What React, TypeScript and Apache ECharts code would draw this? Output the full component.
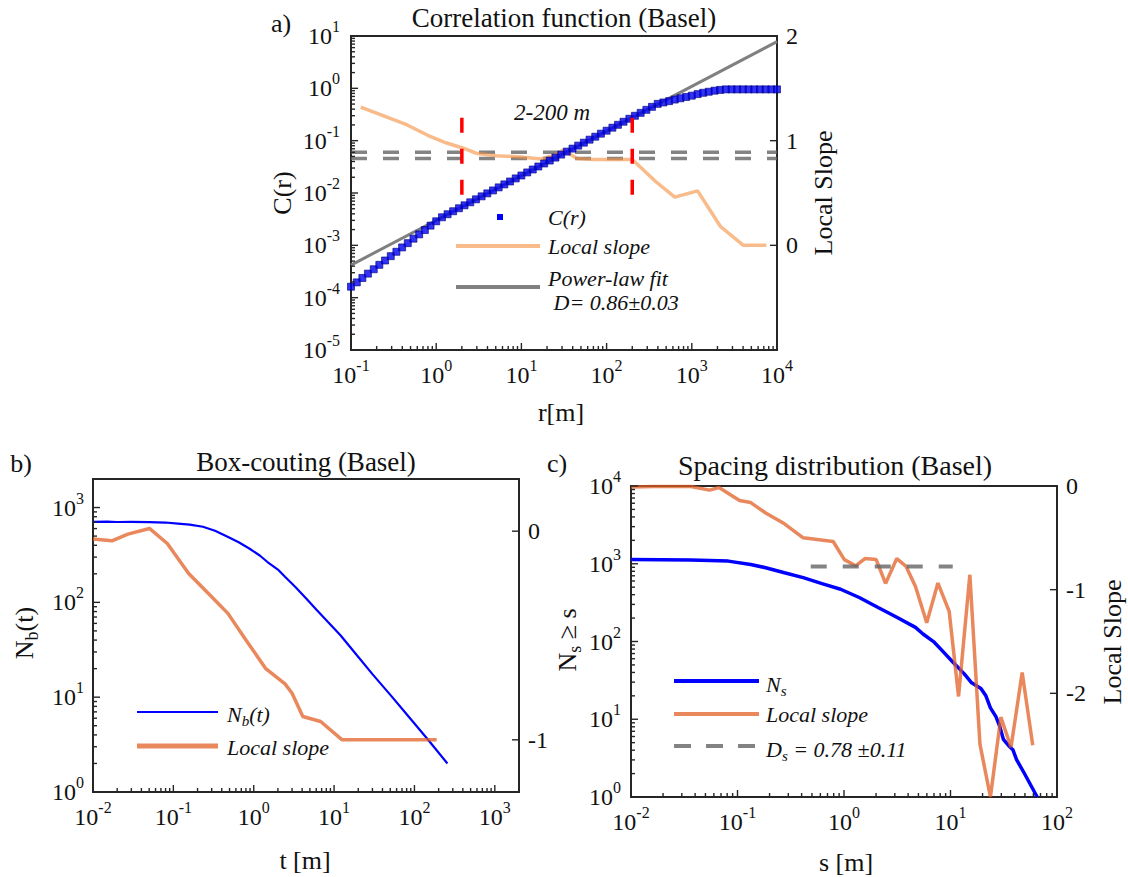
import React, { useEffect, useRef } from 'react';
import * as echarts from 'echarts';

const F = '"Liberation Serif", "Times New Roman", serif';
const INK = '#111111';
const FRAME = '#262626';
const BLUE = '#0000ff';
const ORANGE_A = 'rgba(245,145,65,0.62)';
const ORANGE_BC = 'rgba(225,95,35,0.74)';
const GREY = '#808080';
const GREY_DASH = 'rgba(100,100,100,0.8)';

// ---------- Panel a: correlation function ----------
const corrR = [0.1, 0.117, 0.136, 0.158, 0.185, 0.215, 0.251, 0.293, 0.341, 0.398, 0.464, 0.541, 0.631, 0.736, 0.858,
  1, 1.17, 1.36, 1.58, 1.85, 2.15, 2.51, 2.93, 3.41, 3.98, 4.64, 5.41, 6.31, 7.36, 8.58,
  10, 11.7, 13.6, 15.8, 18.5, 21.5, 25.1, 29.3, 34.1, 39.8, 46.4, 54.1, 63.1, 73.6, 85.8,
  100, 117, 136, 158, 185, 215, 251, 293, 341, 398, 464, 541, 631, 736, 858,
  1000, 1170, 1360, 1580, 1850, 2150, 2510, 2930, 3410, 3980, 4640, 5410, 6310, 7360, 8580, 10000];
const corrC = [1.62e-4, 1.96e-4, 2.38e-4, 2.88e-4, 3.49e-4, 4.24e-4, 5.13e-4, 6.21e-4, 7.53e-4, 9.12e-4, 1.10e-3, 1.34e-3, 1.62e-3, 1.96e-3, 2.38e-3,
  2.88e-3, 3.44e-3, 3.93e-3, 4.48e-3, 5.11e-3, 5.82e-3, 6.64e-3, 7.57e-3, 8.63e-3, 9.84e-3, 1.12e-2, 1.28e-2, 1.46e-2, 1.66e-2, 1.90e-2,
  2.16e-2, 2.47e-2, 2.81e-2, 3.21e-2, 3.66e-2, 4.17e-2, 4.75e-2, 5.42e-2, 6.18e-2, 7.05e-2, 8.04e-2, 9.16e-2, 0.1045, 0.119, 0.136,
  0.155, 0.177, 0.201, 0.230, 0.262, 0.299, 0.340, 0.388, 0.443, 0.505, 0.537, 0.569, 0.610, 0.646, 0.684,
  0.724, 0.776, 0.822, 0.861, 0.902, 0.933, 0.955, 0.955, 0.955, 0.955, 0.955, 0.955, 0.955, 0.955, 0.955, 0.955];
const fitR = [0.1, 10000];
const fitC = [4.2e-4, 7.8];
const slopeAR = [0.13, 0.457, 0.85, 1.3, 2.04, 2.93, 5, 9.1, 17, 24, 31, 45, 70, 200, 376, 631, 1170, 2170, 4030, 7500];
const slopeAV = [1.32, 1.15, 1.04, 0.98, 0.93, 0.88, 0.855, 0.846, 0.825, 0.86, 0.91, 0.83, 0.82, 0.82, 0.61, 0.46, 0.52, 0.18, 0.0, 0.0];
const bandA = [0.83, 0.89];
const rangeA = [2, 200];
const rangeAY = [1.22, 0.48];
const xMajorA = [0.1, 1, 10, 100, 1000, 10000];
const yMajorA = [1e-5, 1e-4, 1e-3, 1e-2, 1e-1, 1, 10];
const yRightA = [0, 1, 2];

// ---------- Panel b: box counting ----------
const boxT = [0.01, 0.015, 0.02, 0.03, 0.05, 0.08, 0.114, 0.16, 0.233, 0.33, 0.48, 0.65, 0.88, 1.2, 1.47, 2.0, 2.45, 3.3, 4.5, 6.0, 8.4, 12, 19, 30, 52, 80, 146, 257];
const boxN = [706, 709, 704, 706, 702, 695, 677, 660, 627, 570, 490, 430, 370, 310, 268, 222, 186, 145, 110, 84, 62, 45, 28, 17.5, 10.2, 6.6, 3.6, 2.0];
const slopeBT = [0.01, 0.0172, 0.0272, 0.0504, 0.084, 0.155, 0.258, 0.477, 0.796, 1.40, 2.45, 3.0, 4.08, 6.8, 12.6, 189];
const slopeBV = [-0.038, -0.046, -0.014, 0.013, -0.059, -0.203, -0.289, -0.394, -0.52, -0.657, -0.732, -0.777, -0.888, -0.912, -1.0, -1.0];
const xMajorB = [0.01, 0.1, 1, 10, 100, 1000];
const yMajorB = [1, 10, 100, 1000];
const yRightB = [-1, 0];

// ---------- Panel c: spacing distribution ----------
const spacS = [0.01, 0.0365, 0.082, 0.133, 0.184, 0.276, 0.414, 0.621, 0.929, 1.39, 2.09, 3.13, 4.69, 5.52, 7.03, 8.61, 10.5, 13.4, 15.8, 19.3, 21.5, 23.7, 26.7, 29.0, 31.4, 35.0, 38.5, 41.7, 49.0, 65.2];
const spacN = [1135, 1114, 1081, 980, 889, 767, 662, 556, 470, 368, 274, 205, 152, 125, 98, 73, 54.5, 38.6, 29.4, 24.9, 20, 14, 10.8, 8.1, 5.5, 4.6, 4.06, 3.03, 2.05, 1];
const slopeCS = [0.01, 0.0163, 0.0365, 0.0547, 0.067, 0.1045, 0.133, 0.184, 0.276, 0.414, 0.791, 1.008, 1.285, 1.573, 2.005, 2.455, 3.13, 3.83, 4.69, 5.98, 7.62, 9.72, 11.9, 15.2, 18.9, 23.7, 29.7, 37.0, 47.1, 59.2];
const slopeCV = [-0.01, -0.005, -0.005, -0.04, -0.015, -0.14, -0.16, -0.26, -0.365, -0.50, -0.535, -0.71, -0.77, -0.70, -0.71, -0.94, -0.70, -0.776, -0.97, -1.32, -0.936, -1.21, -2.03, -0.856, -2.49, -3.0, -2.23, -2.52, -1.80, -2.5];
const dsS = [0.487, 10.5];
const dsV = -0.776;
const xMajorC = [0.01, 0.1, 1, 10, 100];
const yMajorC = [1, 10, 100, 1000, 10000];
const yRightC = [-2, -1, 0];

const zip = (a: number[], b: number[]) => a.map((v, i) => [v, b[i]]);
const minorsOf = (majors: number[], hi: number) => {
  const out: number[] = [];
  for (let i = 0; i < majors.length; i++)
    for (let m = 2; m <= 9; m++) { const v = m * majors[i]; if (v < hi * 0.999) out.push(v); }
  return out;
};

const supRich = {
  b: { fontFamily: F, fontSize: 24, lineHeight: 26, color: INK },
  s: { fontFamily: F, fontSize: 16, lineHeight: 17, padding: [0, 0, 19, 0], color: INK },
};
const supFmt = (v: number) => `{b|10}{s|${Math.round(Math.log10(v))}}`;

function logAxis(gridIndex: number, min: number, max: number, majors: number[], margin: number, pos?: string) {
  const ax: any = {
    gridIndex, type: 'log', min, max,
    axisLine: { show: false, onZero: false }, splitLine: { show: false }, axisTick: { show: false },
    axisLabel: { customValues: majors, formatter: supFmt, rich: supRich, margin, color: INK },
  };
  if (pos) ax.position = pos;
  return ax;
}
function valRight(gridIndex: number, min: number, max: number, vals: number[]) {
  return {
    gridIndex, type: 'value', position: 'right', min, max,
    axisLine: { show: false, onZero: false }, splitLine: { show: false }, axisTick: { show: false },
    axisLabel: { customValues: vals, fontFamily: F, fontSize: 24, color: INK, margin: 9 },
  };
}

// tick marks drawn as line segments (short lines from the frame inwards) in pixel space via convertToPixel
export default function App() {
  const ref = useRef<HTMLDivElement>(null);
  useEffect(() => {
    if (!ref.current) return;
    const chart = echarts.init(ref.current, undefined, { renderer: 'svg' });
    const line = (name: string, xi: number, yi: number, data: any[], color: string, width: number, dash?: any, z = 2) => ({
      name, type: 'line', xAxisIndex: xi, yAxisIndex: yi, data, showSymbol: false, symbol: 'none', z,
      lineStyle: { color, width, type: dash || 'solid', cap: 'butt' }, silent: true, clip: true,
    });
    const grids = [
      { left: 351, top: 36, width: 426, height: 314 },
      { left: 93, top: 479, width: 426, height: 313 },
      { left: 631, top: 486, width: 426, height: 311 },
    ];
    const txt = (x: number, y: number, text: string, size: number, o: any = {}) => ({
      type: 'text', x, y, rotation: o.rot || 0, z: 100,
      style: {
        text, fontSize: size, fontFamily: F, fontStyle: o.italic ? 'italic' : 'normal', fill: INK,
        align: o.align || 'center', verticalAlign: 'middle', rich: o.rich,
      },
    });
    const seg = (x1: number, y1: number, x2: number, y2: number, stroke: string, w: number, dash?: number[]) => ({
      type: 'line', z: 100, shape: { x1, y1, x2, y2 }, style: { stroke, lineWidth: w, lineDash: dash },
    });
    const richIt = (size: number, italic: boolean) => ({
      i: { fontFamily: F, fontSize: size, fontStyle: italic ? 'italic' : 'normal', fill: INK },
      sub: { fontFamily: F, fontSize: Math.round(size * 0.68), fontStyle: italic ? 'italic' : 'normal', fill: INK, padding: [Math.round(size * 0.6), 0, 0, 0] },
    });
    const staticGraphics = [
      // panel a
      txt(281, 23, 'a)', 26),
      txt(564, 18, 'Correlation function (Basel)', 27),
      txt(282, 193, 'C(r)', 26, { rot: Math.PI / 2 }),
      txt(823, 193, 'Local Slope', 26, { rot: Math.PI / 2 }),
      txt(561, 412, 'r[m]', 26),
      txt(552, 112, '2-200 m', 23, { italic: true }),
      { type: 'rect', z: 100, shape: { x: 497, y: 214, width: 6, height: 6 }, style: { fill: BLUE } },
      txt(548, 217, 'C(r)', 22, { italic: true, align: 'left' }),
      seg(456, 246, 540, 246, ORANGE_A, 4),
      txt(548, 246, 'Local slope', 22, { italic: true, align: 'left' }),
      seg(456, 287, 540, 287, GREY, 4),
      txt(548, 278, 'Power-law fit', 22, { italic: true, align: 'left' }),
      txt(548, 302, ' D= 0.86\u00b10.03', 22, { italic: true, align: 'left' }),
      // panel b
      txt(21, 463, 'b)', 26),
      txt(306, 462, 'Box-couting (Basel)', 27),
      txt(24, 633, '{i|N}{sub|b}{i|(t)}', 26, { rot: Math.PI / 2, rich: richIt(26, false) }),
      txt(305, 860, 't [m]', 26),
      seg(137, 712, 218, 712, BLUE, 2),
      txt(227, 714, '{i|N}{sub|b}{i|(t)}', 22, { align: 'left', rich: richIt(22, true) }),
      seg(137, 746, 218, 746, ORANGE_BC, 5),
      txt(227, 747, 'Local slope', 22, { italic: true, align: 'left' }),
      // panel c
      txt(557, 463, 'c)', 26),
      txt(835, 465, 'Spacing distribution (Basel)', 28),
      txt(567, 640, '{i|N}{sub|s}{i| \u2265 s}', 26, { rot: Math.PI / 2, rich: richIt(26, false) }),
      txt(1112, 642, 'Local Slope', 26, { rot: Math.PI / 2 }),
      txt(846, 862, 's [m]', 26),
      seg(674, 681, 759, 681, BLUE, 4),
      txt(766, 684, '{i|N}{sub|s}', 22, { align: 'left', rich: richIt(22, true) }),
      seg(674, 714, 759, 714, ORANGE_BC, 4),
      txt(766, 714, 'Local slope', 22, { italic: true, align: 'left' }),
      seg(674, 746, 759, 746, GREY_DASH, 4, [17, 15]),
      txt(766, 749, '{i|D}{sub|s}{i| = 0.78 \u00b10.11}', 22, { align: 'left', rich: richIt(22, true) }),
    ];
    const option: any = {
      animation: false,
      backgroundColor: '#ffffff',
      textStyle: { fontFamily: F },
      grid: grids.map((g) => ({ ...g, show: true, borderColor: FRAME, borderWidth: 2 })),
      xAxis: [
        logAxis(0, 0.1, 10000, xMajorA, 12),
        logAxis(1, 0.01, 2000, xMajorB, 12),
        logAxis(2, 0.01, 100, xMajorC, 12),
      ],
      yAxis: [
        logAxis(0, 1e-5, 10, yMajorA, 11, 'left'),
        valRight(0, -1, 2, yRightA),
        logAxis(1, 1, 2000, yMajorB, 9, 'left'),
        valRight(1, -1.25, 0.25, yRightB),
        logAxis(2, 1, 10000, yMajorC, 10, 'left'),
        valRight(2, -3, 0, yRightC),
      ],
      series: [
        line('band lo', 0, 1, [[fitR[0], bandA[0]], [fitR[1], bandA[0]]], GREY_DASH, 3.5, [16, 16]),
        line('band hi', 0, 1, [[fitR[0], bandA[1]], [fitR[1], bandA[1]]], GREY_DASH, 3.5, [16, 16]),
        line('Local slope', 0, 1, zip(slopeAR, slopeAV), ORANGE_A, 3.5),
        line('Power-law fit', 0, 0, zip(fitR, fitC), GREY, 3, undefined, 3),
        {
          name: 'C(r)', type: 'scatter', xAxisIndex: 0, yAxisIndex: 0, data: zip(corrR, corrC), symbol: 'rect', symbolSize: 7, z: 4,
          itemStyle: { color: '#0000f0', borderColor: '#000080', borderWidth: 0.8 }, silent: true,
        },
        line('range lo', 0, 1, [[rangeA[0], rangeAY[0]], [rangeA[0], rangeAY[1]]], '#ff0000', 3.5, [15, 16], 5),
        line('range hi', 0, 1, [[rangeA[1], rangeAY[0]], [rangeA[1], rangeAY[1]]], '#ff0000', 3.5, [15, 16], 5),
        line('N_b', 1, 2, zip(boxT, boxN), BLUE, 2.2),
        line('Local slope b', 1, 3, zip(slopeBT, slopeBV), ORANGE_BC, 3.5, undefined, 3),
        line('N_s', 2, 4, zip(spacS, spacN), BLUE, 3.5),
        line('Local slope c', 2, 5, zip(slopeCS, slopeCV), ORANGE_BC, 3.5, undefined, 3),
        line('D_s', 2, 5, [[dsS[0], dsV], [dsS[1], dsV]], GREY_DASH, 4, [16, 16], 4),
      ],
      graphic: { elements: staticGraphics },
    };
    chart.setOption(option);

    // ticks: positions converted through each axis' own scale
    const tickEls: any[] = [];
    const addX = (gi: number, xi: number, vals: number[], len: number) => {
      const g = grids[gi];
      const yb = g.top + g.height;
      vals.forEach((v) => {
        const px = chart.convertToPixel({ xAxisIndex: xi }, v) as unknown as number;
        if (typeof px === 'number' && isFinite(px)) tickEls.push(seg(px, yb, px, yb - len, FRAME, 1.4));
      });
    };
    const addY = (gi: number, yi: number, vals: number[], len: number, right: boolean) => {
      const g = grids[gi];
      const x0 = right ? g.left + g.width : g.left;
      vals.forEach((v) => {
        const py = chart.convertToPixel({ yAxisIndex: yi }, v) as unknown as number;
        if (typeof py === 'number' && isFinite(py)) tickEls.push(seg(x0, py, right ? x0 - len : x0 + len, py, FRAME, 1.4));
      });
    };
    addX(0, 0, xMajorA, 7); addX(0, 0, minorsOf(xMajorA, 10000), 4);
    addY(0, 0, yMajorA, 7, false); addY(0, 0, minorsOf(yMajorA, 10), 4, false);
    addY(0, 1, yRightA, 7, true);
    addX(1, 1, xMajorB, 7); addX(1, 1, minorsOf(xMajorB, 2000), 4);
    addY(1, 2, yMajorB, 7, false); addY(1, 2, minorsOf(yMajorB, 2000), 4, false);
    addY(1, 3, yRightB, 7, true);
    addX(2, 2, xMajorC, 7); addX(2, 2, minorsOf(xMajorC, 100), 4);
    addY(2, 4, yMajorC, 7, false); addY(2, 4, minorsOf(yMajorC, 10000), 4, false);
    addY(2, 5, yRightC, 7, true);
    chart.setOption({ graphic: { elements: staticGraphics.concat(tickEls) } }, { replaceMerge: ['graphic'] });

    return () => chart.dispose();
  }, []);
  return <div ref={ref} style={{ position: 'absolute', left: 0, top: 0, width: 1128, height: 877, background: '#fff' }} />;
}
